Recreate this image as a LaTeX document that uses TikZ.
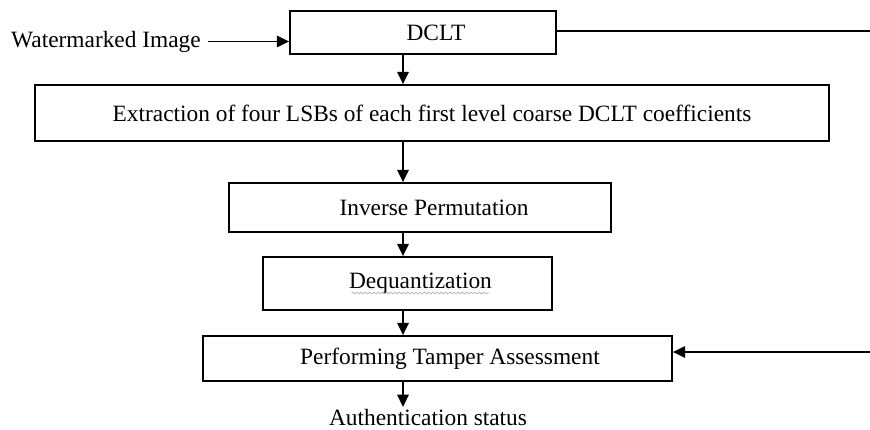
\documentclass[tikz,border=0pt]{standalone}
\usepackage{fontspec}
\setmainfont{Liberation Serif}
\usetikzlibrary{arrows.meta,decorations.pathmorphing}

\begin{document}
\begin{tikzpicture}[line width=1pt,>={Triangle[length=7pt,width=6.5pt]},
  font=\fontsize{13.3}{16}\selectfont,
  box/.style={draw,line width=1pt,inner sep=0pt},
  squig/.style={gray!60,line width=0.4pt,decorate,decoration={snake,amplitude=0.5pt,segment length=2.4pt}}]
\useasboundingbox (0,0) rectangle (17.4,-8.6);
% 竖直主干
\coordinate (spine) at (8.06,0);
% 输入
\node[anchor=east] (wm) at (4.15,-0.83) {Watermarked Image};
\node[box,minimum width=5.32cm,minimum height=0.86cm,label={[xshift=0.26cm]center:DCLT}] (dclt) at (8.46,-0.65) {};
\coordinate (dout) at (17.4,-0.62);
% 提取
\node[box,minimum width=15.88cm,minimum height=1.12cm] (ext) at (8.64,-2.26)
  {Extraction of four LSBs of each first level coarse DCLT coefficients};
% 逆置换、反量化
\node[box,minimum width=7.64cm,minimum height=0.98cm,label={[xshift=0.28cm]center:Inverse Permutation}] (inv) at (8.40,-4.15) {};
\node[box,minimum width=5.78cm,minimum height=1.06cm,label={[xshift=0.26cm]center:Dequantization}] (deq) at (8.15,-5.67) {};
% 篡改评估
\node[box,minimum width=9.38cm,minimum height=0.90cm,label={[xshift=0.25cm]center:Performing Tamper Assessment}] (perf) at (8.75,-7.17) {};
\coordinate (pin) at (17.4,-7.04);
\node[anchor=north,inner sep=1pt] (auth) at (8.56,-8.14) {Authentication status};
% 连线
\draw[->] (wm.east) -- (dclt.west |- wm.east);
\draw (dclt.east |- dout) -- (dout);
\draw[->] (dclt.south -| spine) -- (ext.north -| spine);
\draw[->] (ext.south -| spine) -- (inv.north -| spine);
\draw[->] (inv.south -| spine) -- (deq.north -| spine);
\draw[->] (deq.south -| spine) -- (perf.north -| spine);
\draw[->] (pin) -- (perf.east |- pin);
\draw[->] (perf.south -| spine) -- (auth.north -| spine);
% 拼写检查波浪线
\draw[squig] (7.03,-5.86) -- (9.78,-5.86);
\end{tikzpicture}
\end{document}
